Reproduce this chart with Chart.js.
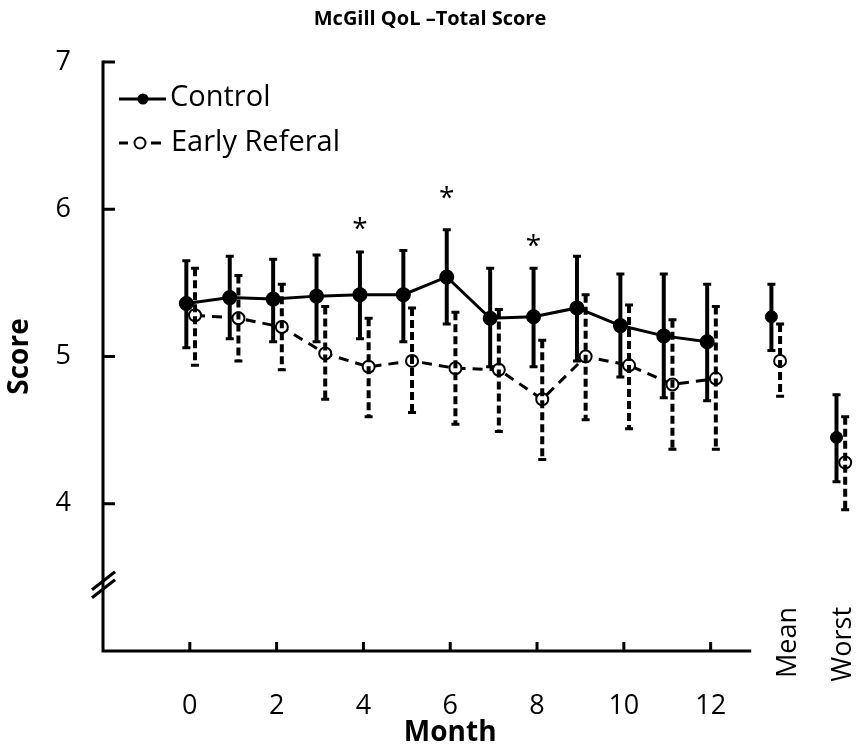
<!DOCTYPE html>
<html><head><meta charset="utf-8">
<script src="https://cdn.jsdelivr.net/npm/chart.js@4/dist/chart.umd.min.js"></script>
<style>html,body{margin:0;padding:0;background:#fff;}</style>
</head><body>
<canvas id="c" width="862" height="754"></canvas>
<script>
// ---- data ----
const chartTitle = 'McGill QoL –Total Score';
const xTitle = 'Month';
const yTitle = 'Score';
const seriesNames = ['Control', 'Early Referal'];
const months = [0, 1, 2, 3, 4, 5, 6, 7, 8, 9, 10, 11, 12];
const monthTicks = [0, 2, 4, 6, 8, 10, 12];
const scoreTicks = [4, 5, 6, 7];

const controlMean  = [5.36, 5.40, 5.39, 5.41, 5.42, 5.42, 5.54, 5.26, 5.27, 5.33, 5.21, 5.14, 5.10];
const controlUpper = [5.65, 5.68, 5.66, 5.69, 5.71, 5.72, 5.86, 5.60, 5.60, 5.68, 5.56, 5.56, 5.49];
const controlLower = [5.06, 5.12, 5.10, 5.10, 5.12, 5.10, 5.22, 4.93, 4.93, 4.97, 4.86, 4.72, 4.70];

const earlyMean  = [5.28, 5.26, 5.20, 5.02, 4.93, 4.97, 4.92, 4.91, 4.71, 5.00, 4.94, 4.81, 4.85];
const earlyUpper = [5.60, 5.55, 5.49, 5.34, 5.26, 5.33, 5.30, 5.32, 5.11, 5.42, 5.35, 5.25, 5.34];
const earlyLower = [4.94, 4.97, 4.91, 4.71, 4.59, 4.62, 4.54, 4.49, 4.30, 4.57, 4.51, 4.37, 4.37];

const summaryLabels = ['Mean', 'Worst'];
const controlSummary      = [5.27, 4.45];
const controlSummaryUpper = [5.49, 4.74];
const controlSummaryLower = [5.04, 4.15];
const earlySummary        = [4.97, 4.28];
const earlySummaryUpper   = [5.22, 4.59];
const earlySummaryLower   = [4.73, 3.96];

const sigMonths = [4, 6, 8];
const sigLevels = [5.91, 6.12, 5.79];

// ---- layout / style constants ----
const summaryPos = [13.48, 14.98];
const summaryLabelShift = [21, 11];
const ctrlShift = -0.08, earlyShift = 0.12;
const xAxisEnd = 12.9;
const breakAt = 3.45;
const FONT = "'Open Sans', 'Noto Sans', sans-serif";

Chart.defaults.color = '#000';
Chart.defaults.font.family = FONT;

const pts = (xs, ys, sh) => xs.map((x, i) => ({x: x + sh, y: ys[i]}));

const datasets = [
  {label: seriesNames[0], data: pts(months, controlMean, ctrlShift), showLine: true,
   borderColor: '#000', borderWidth: 3, pointRadius: 6, pointBackgroundColor: '#000', pointBorderColor: '#000',
   errHigh: controlUpper, errLow: controlLower, errDash: [], clip: false, order: 2},
  {label: seriesNames[1], data: pts(months, earlyMean, earlyShift), showLine: true,
   borderColor: '#000', borderWidth: 3, borderDash: [10, 7], pointRadius: 6, pointBackgroundColor: '#fff',
   pointBorderColor: '#000', pointBorderWidth: 2,
   errHigh: earlyUpper, errLow: earlyLower, errDash: [8, 4], clip: false, order: 1},
  {label: seriesNames[0] + ' summary', data: pts(summaryPos, controlSummary, ctrlShift), showLine: false,
   pointRadius: 6, pointBackgroundColor: '#000', pointBorderColor: '#000',
   errHigh: controlSummaryUpper, errLow: controlSummaryLower, errDash: [], clip: false, order: 2},
  {label: seriesNames[1] + ' summary', data: pts(summaryPos, earlySummary, earlyShift), showLine: false,
   pointRadius: 6, pointBackgroundColor: '#fff', pointBorderColor: '#000', pointBorderWidth: 2,
   errHigh: earlySummaryUpper, errLow: earlySummaryLower, errDash: [8, 4], clip: false, order: 1}
];

const axesPlugin = {
  id: 'axesPlugin',
  beforeDatasetsDraw(chart) {
    const {ctx, scales: {x, y}} = chart;
    const x0 = x.getPixelForValue(x.min), y0 = y.getPixelForValue(y.min);
    ctx.save();
    ctx.strokeStyle = '#000'; ctx.lineWidth = 3; ctx.lineCap = 'square';
    ctx.beginPath();
    ctx.moveTo(x0, y.getPixelForValue(y.max));
    ctx.lineTo(x0, y0);
    ctx.lineTo(x.getPixelForValue(xAxisEnd), y0);
    ctx.stroke();
    ctx.lineCap = 'butt';
    scoreTicks.forEach(v => {
      const py = y.getPixelForValue(v);
      ctx.beginPath(); ctx.moveTo(x0, py); ctx.lineTo(x0 + 12, py); ctx.stroke();
    });
    monthTicks.forEach(v => {
      const px = x.getPixelForValue(v);
      ctx.beginPath(); ctx.moveTo(px, y0); ctx.lineTo(px, y0 - 9); ctx.stroke();
    });
    // axis break marks
    const by = y.getPixelForValue(breakAt);
    [-4, 4].forEach(d => {
      ctx.beginPath();
      ctx.moveTo(x0 - 11, by + d + 9);
      ctx.lineTo(x0 + 12, by + d - 9);
      ctx.stroke();
    });
    ctx.restore();
  }
};

const errorPlugin = {
  id: 'errorPlugin',
  afterDatasetsDraw(chart) {
    const {ctx, scales: {x, y}} = chart;
    ctx.save();
    ctx.strokeStyle = '#000';
    chart.data.datasets.forEach(ds => {
      ds.data.forEach((p, j) => {
        const px = x.getPixelForValue(p.x);
        const yh = y.getPixelForValue(ds.errHigh[j]);
        const yl = y.getPixelForValue(ds.errLow[j]);
        ctx.lineWidth = 4; ctx.setLineDash(ds.errDash);
        ctx.beginPath(); ctx.moveTo(px, yh); ctx.lineTo(px, yl); ctx.stroke();
        ctx.setLineDash([]); ctx.lineWidth = 3;
        ctx.beginPath();
        ctx.moveTo(px - 4, yh); ctx.lineTo(px + 4, yh);
        ctx.moveTo(px - 4, yl); ctx.lineTo(px + 4, yl);
        ctx.stroke();
      });
    });
    ctx.restore();
  }
};

const textPlugin = {
  id: 'textPlugin',
  afterDraw(chart) {
    const {ctx, scales: {x, y}, chartArea} = chart;
    ctx.save();
    ctx.fillStyle = '#000'; ctx.strokeStyle = '#000';
    // significance asterisks
    ctx.font = '28px ' + FONT; ctx.textAlign = 'center'; ctx.textBaseline = 'alphabetic';
    sigMonths.forEach((m, i) => {
      ctx.fillText('*', x.getPixelForValue(m + ctrlShift), y.getPixelForValue(sigLevels[i]) + 15);
    });
    // summary category labels
    ctx.font = '27px ' + FONT;
    summaryLabels.forEach((lab, i) => {
      ctx.save();
      ctx.translate(x.getPixelForValue(summaryPos[i]) + summaryLabelShift[i], y.getPixelForValue(y.min) - 44);
      ctx.rotate(-Math.PI / 2);
      ctx.textAlign = 'right'; ctx.textBaseline = 'alphabetic';
      ctx.fillText(lab, 0, 0);
      ctx.restore();
    });
    // x axis title
    ctx.font = 'bold 28px ' + FONT; ctx.textAlign = 'center'; ctx.textBaseline = 'middle';
    ctx.fillText(xTitle, x.getPixelForValue(6), 733);
    // legend
    const lx = chartArea.left + 16, ly = [99, 143];
    ctx.lineWidth = 3;
    ctx.beginPath(); ctx.moveTo(lx, ly[0]); ctx.lineTo(lx + 47, ly[0]); ctx.stroke();
    ctx.beginPath(); ctx.arc(lx + 24, ly[0], 5.5, 0, Math.PI * 2); ctx.fill();
    ctx.beginPath(); ctx.moveTo(lx, ly[1]); ctx.lineTo(lx + 9, ly[1]);
    ctx.moveTo(lx + 32, ly[1]); ctx.lineTo(lx + 42, ly[1]); ctx.stroke();
    ctx.lineWidth = 2;
    ctx.beginPath(); ctx.arc(lx + 21, ly[1], 5.5, 0, Math.PI * 2);
    ctx.fillStyle = '#fff'; ctx.fill(); ctx.stroke();
    ctx.fillStyle = '#000';
    ctx.font = '29px ' + FONT; ctx.textAlign = 'left'; ctx.textBaseline = 'middle';
    ctx.fillText(seriesNames[0], lx + 51, ly[0] - 1);
    ctx.fillText(seriesNames[1], lx + 52, ly[1]);
    ctx.restore();
  }
};

new Chart(document.getElementById('c'), {
  type: 'scatter',
  data: {datasets},
  options: {
    responsive: false,
    animation: false,
    devicePixelRatio: 1,
    layout: {padding: {left: 0, right: 2, top: 0, bottom: 0}},
    plugins: {
      legend: {display: false},
      tooltip: {enabled: false},
      title: {display: true, text: chartTitle, color: '#000',
        font: {family: FONT, size: 20, weight: 'bold'}, padding: {top: 7, bottom: 31}}
    },
    scales: {
      x: {
        type: 'linear', min: -2, max: 15.28,
        afterBuildTicks: s => { s.ticks = monthTicks.map(v => ({value: v})); },
        afterFit: s => { s.height = 103; },
        grid: {display: false, drawTicks: false}, border: {display: false},
        ticks: {padding: 39, font: {family: FONT, size: 27}, color: '#000', maxRotation: 0, autoSkip: false}
      },
      y: {
        type: 'linear', min: 3, max: 7,
        afterBuildTicks: s => { s.ticks = scoreTicks.map(v => ({value: v})); },
        afterFit: s => { s.width = 103; },
        grid: {display: false, drawTicks: false}, border: {display: false},
        title: {display: true, text: yTitle, color: '#000', font: {family: FONT, size: 28, weight: 'bold'}, padding: {top: 3, bottom: 0}},
        ticks: {padding: 32, font: {family: FONT, size: 27}, color: '#000'}
      }
    }
  },
  plugins: [axesPlugin, errorPlugin, textPlugin]
});
</script>
</body></html>
